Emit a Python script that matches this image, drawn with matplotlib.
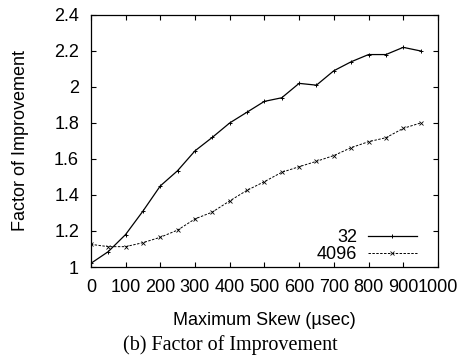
import matplotlib
matplotlib.use("Agg")
import matplotlib.pyplot as plt

# skew values (usec) and factor of improvement for the two sizes
skew = [0, 50, 100, 150, 200, 250, 300, 350, 400, 450,
        500, 550, 600, 650, 700, 750, 800, 850, 900, 950]
fac_32 = [1.02, 1.085, 1.18, 1.31, 1.45, 1.535, 1.645, 1.72, 1.80, 1.86,
          1.92, 1.94, 2.02, 2.01, 2.09, 2.14, 2.18, 2.18, 2.22, 2.20]
fac_4096 = [1.126, 1.113, 1.113, 1.135, 1.165, 1.205, 1.267, 1.305, 1.367, 1.426,
            1.474, 1.526, 1.557, 1.587, 1.619, 1.663, 1.696, 1.718, 1.77, 1.80]

xticks = list(range(0, 1001, 100))
yticks = [1, 1.2, 1.4, 1.6, 1.8, 2, 2.2, 2.4]
ytick_labels = ["1", "1.2", "1.4", "1.6", "1.8", "2", "2.2", "2.4"]

plt.rcParams["font.family"] = ["Liberation Sans", "DejaVu Sans"]
FS = 13

fig = plt.figure(figsize=(4.61, 3.56), dpi=100)
ax = fig.add_axes([0.197, 0.25, 0.753, 0.708])

ax.plot(skew, fac_32, "-", color="black", lw=0.9, marker="+", ms=3.5,
        mew=0.7, label="32")
ax.plot(skew, fac_4096, "--", color="black", lw=0.7, dashes=(2.5, 1.5),
        marker="x", ms=3, mew=0.6, label="4096")

ax.set_xlim(0, 1000)
ax.set_ylim(1, 2.4)
ax.set_xticks(xticks)
ax.set_xticklabels([str(t) for t in xticks])
ax.set_yticks(yticks)
ax.set_yticklabels(ytick_labels)
ax.tick_params(direction="in", top=True, right=True, length=3.5,
               width=0.8, labelsize=FS, pad=8.5)
for s in ax.spines.values():
    s.set_linewidth(0.9)

ax.set_xlabel("Maximum Skew (\u00b5sec)", fontsize=FS, labelpad=12)
ax.set_ylabel("Factor of Improvement", fontsize=FS, labelpad=18)

leg = ax.legend(loc="lower right", frameon=False, markerfirst=False,
                fontsize=FS, handlelength=2.7, handletextpad=0.6,
                labelspacing=0.0, borderaxespad=0.3,
                bbox_to_anchor=(0.975, -0.035))
for t in leg.get_texts():
    t.set_ha("right")
    t.set_position((0, 0))

fig.text(0.5, 0.031, "(b) Factor of Improvement", ha="center", va="center",
         fontsize=14.5, family=["Liberation Serif", "DejaVu Serif"])

fig.savefig("out.png", dpi=100)
